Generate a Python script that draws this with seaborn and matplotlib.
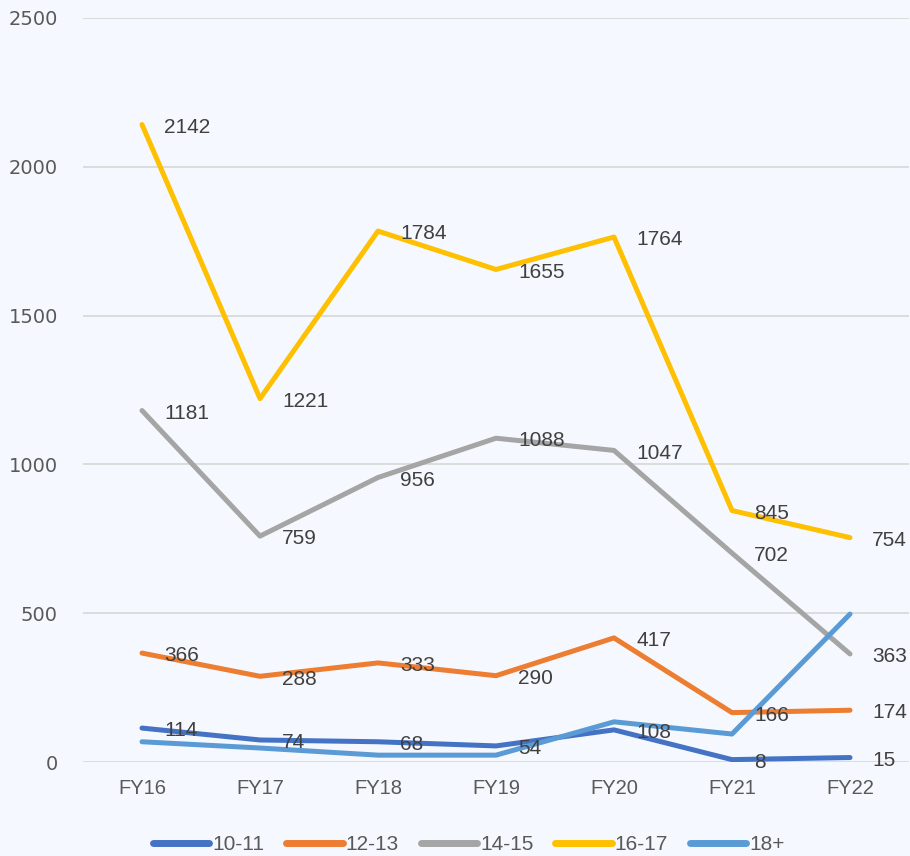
import pandas as pd
import matplotlib.pyplot as plt
import seaborn as sns

# data
years = ['FY16', 'FY17', 'FY18', 'FY19', 'FY20', 'FY21', 'FY22']
groups = ['10-11', '12-13', '14-15', '16-17', '18+']
age_10_11 = [114, 74, 68, 54, 108, 8, 15]
age_12_13 = [366, 288, 333, 290, 417, 166, 174]
age_14_15 = [1181, 759, 956, 1088, 1047, 702, 363]
age_16_17 = [2142, 1221, 1784, 1655, 1764, 845, 754]
age_18_plus = [68, 47, 23, 23, 135, 94, 497]  # no labels on this series
colors = ['#4472C4', '#ED7D31', '#A5A5A5', '#FFC000', '#5B9BD5']
labelled = ['10-11', '12-13', '14-15', '16-17']

series = [age_10_11, age_12_13, age_14_15, age_16_17, age_18_plus]
df = pd.DataFrame([
    {'year': y, 'group': g, 'value': v}
    for g, vals in zip(groups, series)
    for y, v in zip(years, vals)
])

sns.set_theme(style='white')
bg = '#F5F8FE'
label_font = ['Liberation Sans', 'DejaVu Sans']

fig = plt.figure(figsize=(9.1, 8.56), dpi=100, facecolor=bg)
ax = fig.add_axes([83 / 910, 1 - 762 / 856, 826 / 910, 744 / 856])
ax.set_facecolor(bg)

sns.lineplot(data=df, x='year', y='value', hue='group', hue_order=groups,
             palette=colors, linewidth=3.6, sort=False, ax=ax, legend=False)

# data labels to the right of each point
for g, vals in zip(groups, series):
    if g not in labelled:
        continue
    for i, v in enumerate(vals):
        ax.annotate(str(v), (i, v), xytext=(16, -2), textcoords='offset points',
                    ha='left', va='center', fontsize=15, color='#404040',
                    family=label_font, annotation_clip=False, clip_on=False)

ax.set_xlim(-0.5, 6.5)
ax.set_ylim(0, 2500)
ax.set_yticks([0, 500, 1000, 1500, 2000, 2500])
ax.yaxis.grid(True, color='#D9D9D9', linewidth=1.3)
ax.set_axisbelow(True)
ax.set_xlabel('')
ax.set_ylabel('')
for s in ax.spines.values():
    s.set_visible(False)
ax.tick_params(axis='y', labelsize=14, colors='#595959', length=0, pad=18)
ax.tick_params(axis='x', length=0, pad=12)
for t in ax.get_xticklabels():
    t.set_fontsize(14.5)
    t.set_color('#595959')
    t.set_family(label_font)
for t in ax.get_yticklabels():
    t.set_family(['DejaVu Sans'])

handles = [plt.Line2D([], [], color=c, linewidth=5, solid_capstyle='round') for c in colors]
leg = fig.legend(handles, groups, loc='center', bbox_to_anchor=(469 / 910, 1 - 845 / 856),
                 ncol=5, frameon=False, handlelength=2.7, handletextpad=0.15,
                 columnspacing=1.05, prop={'family': label_font, 'size': 15})
for t in leg.get_texts():
    t.set_color('#595959')

fig.savefig('out.png', dpi=100, facecolor=bg)
